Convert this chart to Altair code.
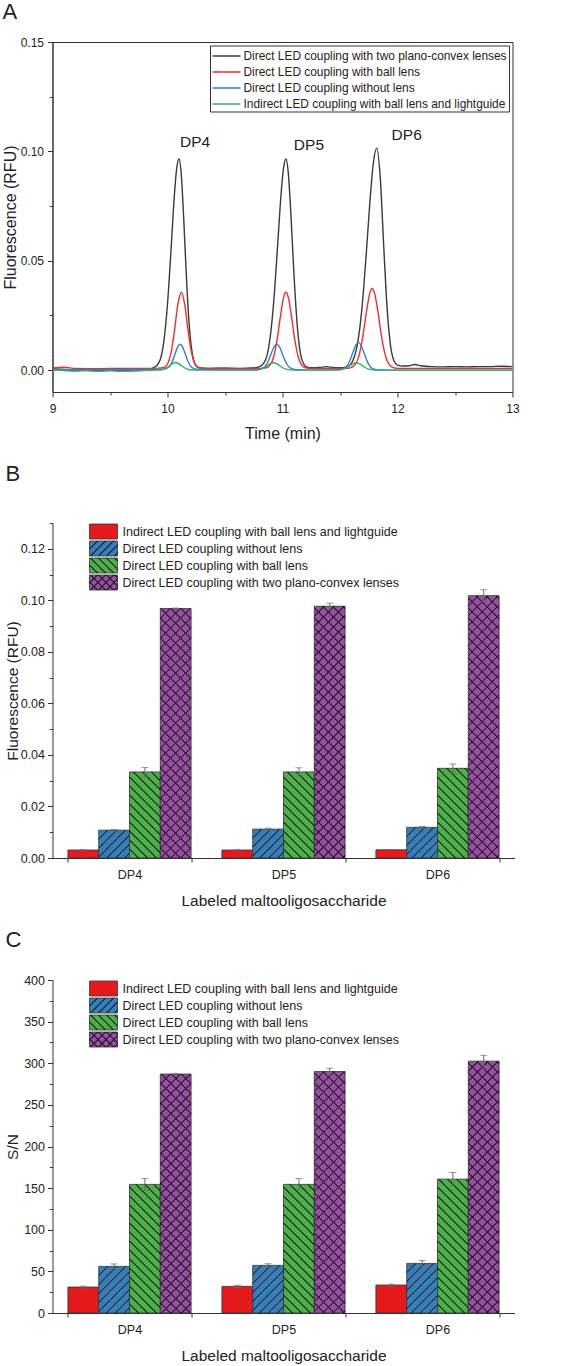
import altair as alt
import pandas as pd

FONT = "Liberation Sans, Arial, Helvetica, sans-serif"
INK = "#222222"
AXIS_INK = "#333333"

# ---------------------------------------------------------------- A: traces
trace_names = [
    "Direct LED coupling with two plano-convex lenses",
    "Direct LED coupling with ball lens",
    "Direct LED coupling without lens",
    "Indirect LED coupling with ball lens and lightguide",
]
trace_colors = ["#3a3a3a", "#f42c2c", "#2b7fe0", "#34b062"]

t_two_lens = [9.00, 9.10, 9.20, 9.30, 9.40, 9.50, 9.60, 9.70, 9.80, 9.88, 9.93, 9.97,
              10.00, 10.03, 10.06, 10.08, 10.10, 10.12, 10.14, 10.17, 10.20, 10.23, 10.26, 10.30,
              10.40, 10.50, 10.60, 10.70, 10.78, 10.84, 10.89, 10.93, 10.96, 10.99, 11.01, 11.03,
              11.05, 11.07, 11.10, 11.13, 11.17, 11.21, 11.26, 11.32, 11.38, 11.44, 11.50,
              11.56, 11.61, 11.65, 11.69, 11.73, 11.76, 11.79, 11.82, 11.85, 11.88, 11.91, 11.94,
              11.97, 12.00, 12.05, 12.10, 12.15, 12.20, 12.30, 12.40, 12.50, 12.60, 12.70, 12.80,
              12.90, 13.00]
f_two_lens = [0.0005, 0.0003, -0.0002, 0.0000, -0.0003, 0.0000, -0.0004, 0.0000, -0.0001, 0.0011, 0.0039, 0.0138,
              0.0302, 0.0544, 0.0801, 0.0922, 0.0966, 0.0892, 0.0704, 0.0367, 0.0138, 0.0041, 0.0014, 0.0009,
              0.0008, 0.0009, 0.0007, 0.0009, 0.0012, 0.0034, 0.0139, 0.0354, 0.0590, 0.0821, 0.0927, 0.0965,
              0.0904, 0.0743, 0.0435, 0.0193, 0.0047, 0.0015, 0.0011, 0.0012, 0.0016, 0.0012, 0.0011,
              0.0015, 0.0042, 0.0115, 0.0278, 0.0544, 0.0769, 0.0947, 0.1015, 0.0880, 0.0570, 0.0280, 0.0110,
              0.0042, 0.0023, 0.0019, 0.0020, 0.0026, 0.0020, 0.0016, 0.0015, 0.0016, 0.0015, 0.0016, 0.0016,
              0.0018, 0.0016]

t_ball = [9.00, 9.10, 9.20, 9.40, 9.60, 9.80, 9.92, 9.97, 10.00, 10.03, 10.06, 10.09, 10.12,
          10.15, 10.18, 10.21, 10.24, 10.27, 10.35, 10.50, 10.65, 10.80, 10.86, 10.91, 10.95,
          10.98, 11.01, 11.03, 11.05, 11.08, 11.11, 11.15, 11.20, 11.26, 11.40, 11.50, 11.56,
          11.61, 11.66, 11.70, 11.73, 11.76, 11.78, 11.80, 11.83, 11.86, 11.90, 11.95, 12.00,
          12.50, 13.00]
f_ball = [0.0010, 0.0013, 0.0008, 0.0007, 0.0008, 0.0008, 0.0009, 0.0012, 0.0028, 0.0077, 0.0177, 0.0299, 0.0356,
          0.0299, 0.0177, 0.0077, 0.0028, 0.0012, 0.0008, 0.0009, 0.0008, 0.0008, 0.0011, 0.0040, 0.0129,
          0.0238, 0.0334, 0.0356, 0.0334, 0.0238, 0.0129, 0.0040, 0.0011, 0.0008, 0.0008, 0.0008, 0.0008,
          0.0015, 0.0057, 0.0158, 0.0266, 0.0353, 0.0373, 0.0353, 0.0266, 0.0158, 0.0057, 0.0015, 0.0008,
          0.0008, 0.0008]

t_no_lens = [9.00, 9.30, 9.60, 9.90, 9.97, 10.01, 10.04, 10.07, 10.09, 10.11, 10.13, 10.15, 10.18,
             10.21, 10.25, 10.40, 10.60, 10.78, 10.83, 10.87, 10.90, 10.93, 10.95, 10.97, 11.00,
             11.03, 11.07, 11.12, 11.30, 11.50, 11.54, 11.58, 11.61, 11.64, 11.66, 11.68, 11.71,
             11.74, 11.78, 11.83, 12.00, 12.50, 13.00]
f_no_lens = [0.0003, 0.0002, 0.0003, 0.0003, 0.0004, 0.0013, 0.0037, 0.0081, 0.0107, 0.0118, 0.0107, 0.0081, 0.0037,
             0.0013, 0.0004, 0.0002, 0.0002, 0.0002, 0.0009, 0.0035, 0.0073, 0.0110, 0.0119, 0.0110, 0.0073,
             0.0035, 0.0009, 0.0002, 0.0001, 0.0002, 0.0008, 0.0036, 0.0077, 0.0117, 0.0127, 0.0117, 0.0077,
             0.0036, 0.0008, 0.0001, 0.0000, 0.0000, 0.0000]

t_lightguide = [9.00, 9.10, 9.20, 9.30, 9.40, 9.50, 9.60, 9.70, 9.80, 9.90, 9.95, 10.00, 10.03,
                10.07, 10.11, 10.14, 10.19, 10.25, 10.50, 10.75, 10.82, 10.86, 10.89, 10.92, 10.95,
                10.98, 11.02, 11.10, 11.30, 11.45, 11.54, 11.58, 11.61, 11.64, 11.67, 11.70, 11.74,
                11.82, 12.20, 12.60, 13.00]
f_lightguide = [0.0000, -0.0002, -0.0004, -0.0003, -0.0005, -0.0003, -0.0005, -0.0004, -0.0002, 0.0000, 0.0002, 0.0013, 0.0025,
                0.0035, 0.0025, 0.0013, 0.0002, 0.0000, 0.0000, 0.0000, 0.0006, 0.0019, 0.0029, 0.0034, 0.0029,
                0.0019, 0.0006, 0.0000, 0.0000, 0.0000, 0.0006, 0.0019, 0.0029, 0.0034, 0.0029, 0.0019, 0.0006,
                0.0000, 0.0000, 0.0000, 0.0000]

peak_labels = ["DP4", "DP5", "DP6"]
peak_label_t = [10.24, 11.23, 12.08]
peak_label_f = [0.1020, 0.1008, 0.1050]

# ---------------------------------------------------------------- B, C: bars
groups = ["DP4", "DP5", "DP6"]
setups = [
    "Indirect LED coupling with ball lens and lightguide",
    "Direct LED coupling without lens",
    "Direct LED coupling with ball lens",
    "Direct LED coupling with two plano-convex lenses",
]
setup_colors = ["#e41a1c", "#377eb8", "#4daf4a", "#984ea3"]
setup_hatch = [[], ["/"], ["\\"], ["/", "\\"]]

fluor_lightguide = [0.0031, 0.0031, 0.0032]
fluor_no_lens = [0.0108, 0.0112, 0.0119]
fluor_ball = [0.0334, 0.0334, 0.0348]
fluor_two_lens = [0.0968, 0.0977, 0.1018]
fluor_err_lightguide = [0.0001, 0.0001, 0.0001]
fluor_err_no_lens = [0.0003, 0.0004, 0.0003]
fluor_err_ball = [0.0017, 0.0016, 0.0017]
fluor_err_two_lens = [0.0002, 0.0012, 0.0023]

sn_lightguide = [31.2, 32.0, 33.6]
sn_no_lens = [56.0, 57.2, 59.6]
sn_ball = [154.5, 154.5, 160.8]
sn_two_lens = [287.0, 290.0, 302.5]
sn_err_lightguide = [1.0, 1.2, 1.0]
sn_err_no_lens = [3.0, 2.0, 3.5]
sn_err_ball = [7.0, 7.0, 8.0]
sn_err_two_lens = [0.6, 4.0, 7.0]

HATCH_INK = "rgba(20,20,20,0.85)"
CLEAR = "rgba(0,0,0,0)"


def hatch_fill(w, h, slant, period):
    """Linear gradient painting 45-degree hatch lines over a w x h pixel box."""
    span = w + h
    m = span / (w * w + h * h)
    du, dv = m * w, m * h
    if slant == "/":
        x1, y1, x2, y2 = 0, 0, du, dv
    else:
        x1, y1, x2, y2 = 0, 1, du, 1 - dv
    stops = [{"offset": 0, "color": CLEAR}]
    soft, core = 1.1, 0.35
    k = 1
    while k * period + soft < span:
        c = k * period
        for off, col in ((c - soft, CLEAR), (c - core, HATCH_INK), (c + core, HATCH_INK), (c + soft, CLEAR)):
            stops.append({"offset": round(off / span, 5), "color": col})
        k += 1
    stops.append({"offset": 1, "color": CLEAR})
    return {"gradient": "linear", "x1": x1, "y1": y1, "x2": x2, "y2": y2, "stops": stops}


def panel_title(letter, offset):
    return alt.TitleParams(text=letter, anchor="start", frame="bounds", fontSize=22,
                           fontWeight="normal", color=INK, font=FONT, offset=offset)


def minor_axis(orient, values):
    return alt.Axis(orient=orient, values=values, labels=False, domain=False, tickSize=3,
                    title=None, grid=False)


# ---------------------------------------------------------------- panel A
A_W, A_H = 460, 350
frames = []
for name, ts, fs in zip(trace_names,
                        [t_two_lens, t_ball, t_no_lens, t_lightguide],
                        [f_two_lens, f_ball, f_no_lens, f_lightguide]):
    frames.append(pd.DataFrame({"trace": name, "t": ts, "f": fs}))
traces = pd.concat(frames, ignore_index=True)

a_xscale = alt.Scale(domain=[9, 13], nice=False, zero=False)
a_yscale = alt.Scale(domain=[-0.01, 0.15], nice=False, zero=False)
a_axes = [
    (alt.X("t:Q", scale=a_xscale,
           axis=alt.Axis(orient="bottom", title="Time (min)", values=[9, 10, 11, 12, 13], format="d",
                         tickSize=5, labelPadding=6, titlePadding=11, labelFontSize=12, titleFontSize=16)),
     alt.Y("f:Q", scale=a_yscale,
           axis=alt.Axis(orient="left", title="Fluorescence (RFU)", values=[0, 0.05, 0.10, 0.15],
                         format=".2f", tickSize=5, labelPadding=4, minExtent=34, maxExtent=34,
                         titlePadding=0, labelFontSize=12, titleFontSize=16))),
    (alt.X("t:Q", scale=a_xscale, axis=minor_axis("bottom", [9.5, 10.5, 11.5, 12.5])),
     alt.Y("f:Q", scale=a_yscale, axis=minor_axis("left", [0.025, 0.075, 0.125]))),
]
a_layers = []
for i, (name, col) in enumerate(zip(trace_names, trace_colors)):
    if i < 2:
        xe, ye = a_axes[i]
    else:
        xe, ye = alt.X("t:Q", scale=a_xscale, axis=None), alt.Y("f:Q", scale=a_yscale, axis=None)
    a_layers.append(
        alt.Chart(traces).transform_filter(alt.datum.trace == name)
        .mark_line(strokeWidth=1.4, interpolate="monotone", clip=True, color=col)
        .encode(x=xe, y=ye)
    )
peaks = pd.DataFrame({"label": peak_labels, "t": peak_label_t, "f": peak_label_f})
a_layers.append(
    alt.Chart(peaks).mark_text(fontSize=15.5, align="center", baseline="alphabetic", color=INK, font=FONT)
    .encode(x=alt.X("t:Q", scale=a_xscale, axis=None), y=alt.Y("f:Q", scale=a_yscale, axis=None),
            text="label:N")
)
# legend box in the upper right of the plot
a_layers.append(
    alt.Chart(pd.DataFrame({"box": [0]})).mark_rect(fill="white", stroke=AXIS_INK, strokeWidth=1)
    .encode(x=alt.value(158), x2=alt.value(457), y=alt.value(4), y2=alt.value(70))
)
for i, (name, col) in enumerate(zip(trace_names, trace_colors)):
    one = pd.DataFrame({"label": [name]})
    row_y = 14 + 16 * i
    a_layers.append(alt.Chart(one).mark_rule(color=col, strokeWidth=1.5).encode(
        x=alt.value(160), x2=alt.value(188), y=alt.value(row_y)))
    a_layers.append(alt.Chart(one).mark_text(align="left", baseline="middle", fontSize=11.9,
                                             color=INK, font=FONT).encode(
        x=alt.value(191), y=alt.value(row_y), text="label:N"))

panel_a = (
    alt.layer(*a_layers)
    .resolve_axis(x="independent", y="independent")
    .properties(width=A_W, height=A_H, title=panel_title("A", 12),
                view=alt.ViewBackground(stroke=AXIS_INK, strokeWidth=1))
)

# ---------------------------------------------------------------- panels B, C
BAR_W = 462


def bar_panel(letter, vals, errs, ymax, tick_step, label_every, fmt, ytitle, plot_h, title_offset):
    rows = []
    for s, vv, ee in zip(setups, vals, errs):
        for g, v, e in zip(groups, vv, ee):
            rows.append({"group": g, "setup": s, "value": v, "lo": v - e, "hi": v + e})
    df = pd.DataFrame(rows)

    xscale = alt.Scale(domain=groups, paddingInner=0.2, paddingOuter=0.1)
    yscale = alt.Scale(domain=[0, ymax], nice=False)
    x = alt.X("group:N", scale=xscale,
              axis=alt.Axis(title="Labeled maltooligosaccharide", labelAngle=0, tickBand="extent",
                            tickSize=4, labelPadding=6, titlePadding=13, labelFontSize=12.5,
                            titleFontSize=15.5))
    x_plain = alt.X("group:N", scale=xscale, axis=None)
    xo = alt.XOffset("setup:N", scale=alt.Scale(domain=setups))
    n = int(round(ymax / tick_step))
    every = int(round(label_every / tick_step))
    major_vals = [round(i * tick_step, 6) for i in range(0, n + 1, every)]
    minor_vals = [round(i * tick_step, 6) for i in range(n + 1) if i % every]
    y = alt.Y("value:Q", scale=yscale,
              axis=alt.Axis(orient="left", title=ytitle, values=major_vals, format=fmt, tickSize=5,
                            labelPadding=3, minExtent=32, maxExtent=32, titlePadding=0,
                            labelFontSize=12.5, titleFontSize=15.5))
    y_minor = alt.Y("value:Q", scale=yscale, axis=minor_axis("left", minor_vals))
    y_plain = alt.Y("value:Q", scale=yscale, axis=None)

    layers = [
        alt.Chart(df).mark_bar(stroke=AXIS_INK, strokeWidth=0.8).encode(
            x=x, xOffset=xo, y=y,
            fill=alt.Fill("setup:N", scale=alt.Scale(domain=setups, range=setup_colors), legend=None),
        )
    ]
    bar_w = BAR_W / 3 * 0.8 / 4
    first = True
    for s, vv, slants in zip(setups, vals, setup_hatch):
        for g, v in zip(groups, vv):
            h_px = v / ymax * plot_h
            for sl in slants:
                layers.append(
                    alt.Chart(df)
                    .transform_filter(f"datum.setup === '{s}' && datum.group === '{g}'")
                    .mark_bar(fill=hatch_fill(bar_w, h_px, sl, 10 if len(slants) == 2 else 9), strokeWidth=0)
                    .encode(x=x_plain, xOffset=xo, y=y_minor if first else y_plain)
                )
                first = False
    # error bars
    layers.append(alt.Chart(df).mark_rule(color="#6b6b6b", strokeWidth=1).encode(
        x=x_plain, xOffset=xo, y=alt.Y("lo:Q", scale=yscale, axis=None), y2="hi:Q"))
    for end in ("lo", "hi"):
        layers.append(alt.Chart(df).mark_tick(color="#6b6b6b", thickness=1, size=7).encode(
            x=x_plain, xOffset=xo, y=alt.Y(f"{end}:Q", scale=yscale, axis=None)))

    # legend block
    for i, (s, col, slants) in enumerate(zip(setups, setup_colors, setup_hatch)):
        one = pd.DataFrame({"label": [s]})
        top = 1 + 17 * i
        pos = dict(x=alt.value(37), x2=alt.value(65), y=alt.value(top), y2=alt.value(top + 15))
        layers.append(alt.Chart(one).mark_rect(fill=col, stroke=AXIS_INK, strokeWidth=0.8).encode(**pos))
        for sl in slants:
            layers.append(alt.Chart(one).mark_rect(fill=hatch_fill(28, 15, sl, 8), strokeWidth=0).encode(**pos))
        layers.append(alt.Chart(one).mark_text(align="left", baseline="middle", fontSize=12.5,
                                               color=INK, font=FONT).encode(
            x=alt.value(70), y=alt.value(top + 7.5), text="label:N"))

    return (
        alt.layer(*layers)
        .resolve_axis(x="independent", y="independent")
        .properties(width=BAR_W, height=plot_h, title=panel_title(letter, title_offset))
    )


panel_b = bar_panel(
    "B",
    [fluor_lightguide, fluor_no_lens, fluor_ball, fluor_two_lens],
    [fluor_err_lightguide, fluor_err_no_lens, fluor_err_ball, fluor_err_two_lens],
    0.13, 0.01, 0.02, ".2f", "Fluorescence (RFU)", 335, 37,
)
panel_c = bar_panel(
    "C",
    [sn_lightguide, sn_no_lens, sn_ball, sn_two_lens],
    [sn_err_lightguide, sn_err_no_lens, sn_err_ball, sn_err_two_lens],
    400, 25, 50, "d", "S/N", 333, 22,
)

chart = (
    alt.vconcat(panel_a, panel_b, panel_c, spacing=20)
    .properties(padding={"left": 1.5, "top": 0, "right": 4, "bottom": 0})
    .configure(font=FONT)
    .configure_view(strokeWidth=0)
    .configure_axis(domainColor=AXIS_INK, tickColor=AXIS_INK, domainWidth=1, tickWidth=1,
                    labelColor=INK, titleColor=INK, titleFontWeight="normal", grid=False,
                    labelFlush=False, labelOverlap=False, labelFont=FONT, titleFont=FONT)
)

chart.save("out.html", embed_options={"renderer": "svg", "actions": False})
